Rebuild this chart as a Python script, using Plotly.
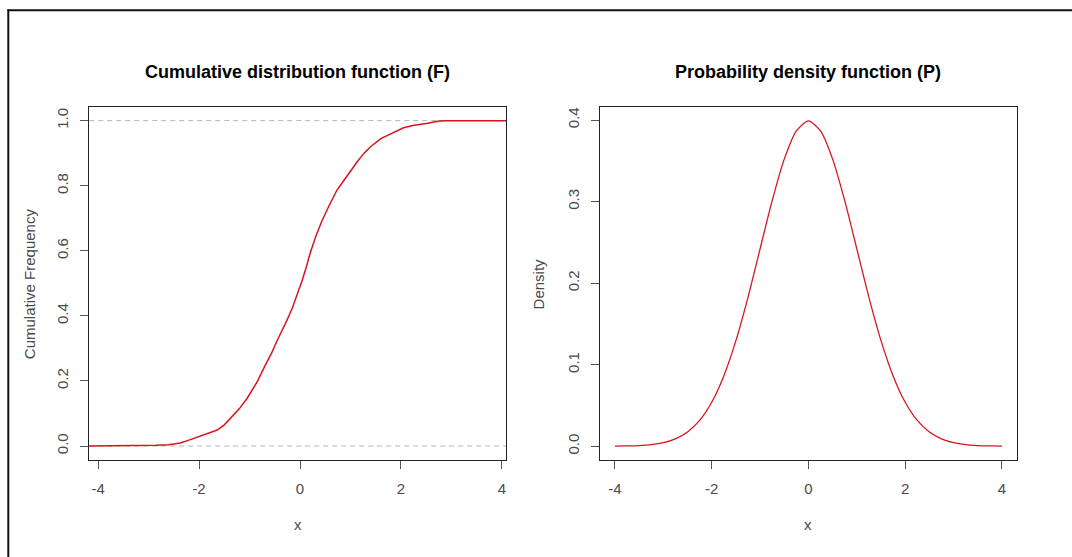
import plotly.graph_objects as go

W, H = 1072, 557

# ---- data ----
ecdf_x = [-4.18, -3.2, -2.86, -2.6, -2.37, -2.2, -2.04, -1.85, -1.64, -1.5, -1.38,
          -1.2, -1.05, -0.95, -0.85, -0.69, -0.55, -0.45, -0.35, -0.26, -0.15, -0.06,
          0.04, 0.12, 0.21, 0.32, 0.44, 0.58, 0.73, 0.85, 0.96, 1.13, 1.25, 1.39,
          1.6, 1.86, 2.05, 2.26, 2.5, 2.76, 2.9, 4.08]
ecdf_y = [0.0, 0.0, 0.002, 0.004, 0.009, 0.018, 0.027, 0.036, 0.049, 0.065, 0.084,
          0.115, 0.146, 0.17, 0.197, 0.248, 0.29, 0.325, 0.356, 0.386, 0.425, 0.463,
          0.508, 0.548, 0.597, 0.648, 0.694, 0.74, 0.786, 0.812, 0.837, 0.873, 0.897, 0.919,
          0.945, 0.965, 0.978, 0.986, 0.991, 0.999, 1.0, 1.0]

dens_x = [-4.0, -3.75, -3.5, -3.25, -3.0, -2.75, -2.5, -2.25, -2.0, -1.75, -1.5,
          -1.25, -1.0, -0.75, -0.5, -0.25, 0.0, 0.25, 0.5, 0.75, 1.0, 1.25, 1.5,
          1.75, 2.0, 2.25, 2.5, 2.75, 3.0, 3.25, 3.5, 3.75, 4.0]
dens_y = [0.0001, 0.0004, 0.0009, 0.002, 0.0044, 0.0091, 0.0175, 0.0317, 0.054,
          0.0863, 0.1295, 0.1826, 0.242, 0.3011, 0.3521, 0.3867, 0.3989, 0.3867,
          0.3521, 0.3011, 0.242, 0.1826, 0.1295, 0.0863, 0.054, 0.0317, 0.0175,
          0.0091, 0.0044, 0.002, 0.0009, 0.0004, 0.0001]

x_ticks = [-4, -2, 0, 2, 4]
cdf_ticks = [0.0, 0.2, 0.4, 0.6, 0.8, 1.0]
cdf_tick_text = ["0.0", "0.2", "0.4", "0.6", "0.8", "1.0"]
pdf_ticks = [0.0, 0.1, 0.2, 0.3, 0.4]
pdf_tick_text = ["0.0", "0.1", "0.2", "0.3", "0.4"]
ref_lines = [0.0, 1.0]

titles = ["Cumulative distribution function (F)", "Probability density function (P)"]
ytitles = ["Cumulative Frequency", "Density"]
xtitle = "x"

RED = "#d8141f"
FONT = "Liberation Sans, Arial, sans-serif"
TXT = "#4a4a4a"

# ---- geometry (pixels) ----
L1, R1 = 89.2, 506.2
L2, R2 = 599.5, 1017.4
TOP, BOT = 107.3, 460.0

def px(x):
    return x / W

def py(y):
    return 1 - y / H

fig = go.Figure()
fig.add_trace(go.Scatter(x=ecdf_x, y=ecdf_y, mode="lines",
                         line=dict(color=RED, width=1.5), xaxis="x", yaxis="y",
                         showlegend=False, hoverinfo="skip"))
fig.add_trace(go.Scatter(x=dens_x, y=dens_y, mode="lines",
                         line=dict(color=RED, width=1.3, shape="spline", smoothing=0.7),
                         xaxis="x2", yaxis="y2",
                         showlegend=False, hoverinfo="skip"))

axis_common = dict(showgrid=False, zeroline=False, showline=True, mirror=True,
                   linecolor="#222222", linewidth=1, ticks="outside", ticklen=8,
                   tickcolor="#555555", tickwidth=1,
                   tickfont=dict(family=FONT, size=15, color=TXT))

fig.update_layout(
    width=W, height=H,
    margin=dict(l=0, r=0, t=0, b=0),
    paper_bgcolor="white", plot_bgcolor="white",
    xaxis=dict(domain=[px(L1), px(R1)], range=[-4.176, 4.084], anchor="y",
               tickvals=x_ticks, ticktext=[str(v) for v in x_ticks],
               ticklabelstandoff=7, **axis_common),
    yaxis=dict(domain=[py(BOT), py(TOP)], range=[-0.043, 1.041], anchor="x",
               tickvals=cdf_ticks, ticktext=cdf_tick_text, tickangle=-90,
               ticklabelstandoff=6, **axis_common),
    xaxis2=dict(domain=[px(L2), px(R2)], range=[-4.32, 4.32], anchor="y2",
                tickvals=x_ticks, ticktext=[str(v) for v in x_ticks],
                ticklabelstandoff=7, **axis_common),
    yaxis2=dict(domain=[py(BOT), py(TOP)], range=[-0.0168, 0.4156], anchor="x2",
                tickvals=pdf_ticks, ticktext=pdf_tick_text, tickangle=-90,
                ticklabelstandoff=6, **axis_common),
)

# dashed reference lines at 0 and 1 in the CDF panel
for v in ref_lines:
    fig.add_shape(type="line", xref="x domain", yref="y", x0=0, x1=1, y0=v, y1=v,
                  line=dict(color="#b3b3b3", width=1, dash="5px,4px"), layer="below")

# outer frame (top and left edges visible)
fig.add_shape(type="line", xref="paper", yref="paper", x0=px(7.5), x1=1.0,
              y0=py(10.3), y1=py(10.3), line=dict(color="#111111", width=2))
fig.add_shape(type="line", xref="paper", yref="paper", x0=px(8.3), x1=px(8.3),
              y0=0.0, y1=py(9.3), line=dict(color="#111111", width=2))

mid_y = (TOP + BOT) / 2
anns = [
    dict(text="<b>" + titles[0] + "</b>", x=px(297.2), y=py(72.5),
         font=dict(family=FONT, size=18, color="#000000")),
    dict(text="<b>" + titles[1] + "</b>", x=px(808.0), y=py(72.5),
         font=dict(family=FONT, size=18, color="#000000")),
    dict(text=ytitles[0], x=px(29.5), y=py(mid_y), textangle=-90,
         font=dict(family=FONT, size=15, color=TXT)),
    dict(text=ytitles[1], x=px(538.8), y=py(mid_y), textangle=-90,
         font=dict(family=FONT, size=15, color=TXT)),
    dict(text=xtitle, x=px((L1 + R1) / 2), y=py(524.5),
         font=dict(family=FONT, size=15, color=TXT)),
    dict(text=xtitle, x=px((L2 + R2) / 2), y=py(524.5),
         font=dict(family=FONT, size=15, color=TXT)),
]
for a in anns:
    fig.add_annotation(xref="paper", yref="paper", showarrow=False,
                       xanchor="center", yanchor="middle", **a)

fig.write_html("out.html")
